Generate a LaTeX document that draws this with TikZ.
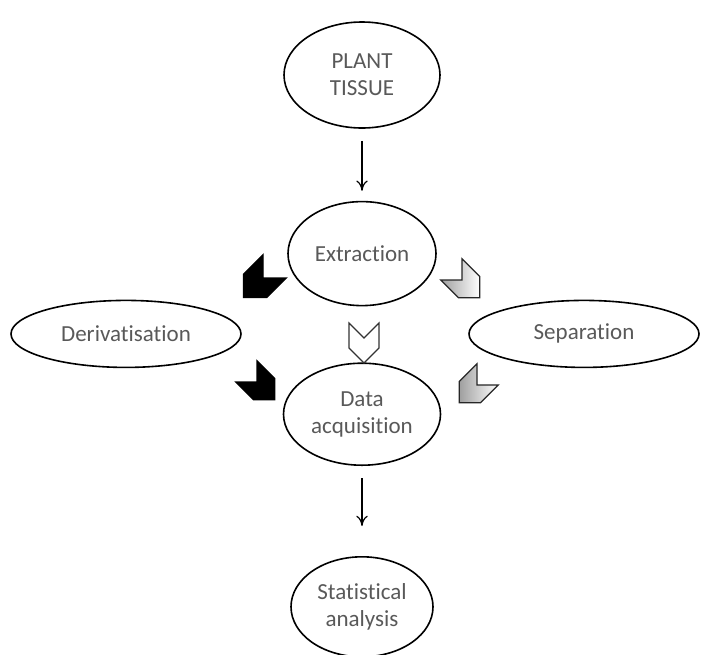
\documentclass[tikz,border=0pt]{standalone}
\usepackage{fontspec}
\setmainfont{Carlito}[Ligatures=NoCommon]
\usetikzlibrary{arrows.meta,positioning,shapes.geometric,calc}
\definecolor{txtgray}{HTML}{595959}
\tikzset{
 stage/.style={draw,ellipse,line width=0.8pt,inner sep=0pt,align=center,
               text=txtgray,font=\fontsize{11.5}{13.5}\selectfont},
 arrow/.style={-{To[length=1.8mm,width=2mm]},line width=0.6pt,shorten <=6pt,shorten >=5pt},
 chev/.pic={\path[#1] (-7.5pt,7.5pt) -- (0,0) -- (-7.5pt,-7.5pt) -- (5pt,-7.5pt)
             -- (12.5pt,0) -- (5pt,7.5pt) -- cycle;},
 darkchev/.style={draw=black,fill=black,line width=0.6pt},
 greychev/.style={draw=black!85,line width=0.6pt,left color=gray!75,right color=white},
 openchev/.style={draw=black!80,line width=0.6pt,fill=white}
}

\begin{document}
\begin{tikzpicture}[node distance=36pt]
\useasboundingbox (0,0) rectangle (355pt,-327pt);
\node[stage,minimum width=78pt,minimum height=53pt] (plant) at (181pt,-37.5pt) {PLANT\\TISSUE};
\node[stage,minimum width=74pt,minimum height=52pt,below=36pt of plant] (extract) {Extraction};
\node[stage,minimum width=78.5pt,minimum height=51pt,below=28pt of extract] (acq) {Data\\acquisition};
\node[stage,minimum width=71pt,minimum height=50pt,below=45pt of acq] (stats) {Statistical\\analysis};
\coordinate (mid) at ($(extract)!0.5!(acq)$);
\node[stage,minimum width=115pt,minimum height=33.5pt] (deriv) at ([xshift=-118pt]mid) {Derivatisation};
\node[stage,minimum width=115pt,minimum height=33.5pt] (separ) at ([xshift=111pt]mid) {Separation};
\draw[arrow] (plant) -- (extract);
\draw[arrow,shorten >=15pt] (acq) -- (stats);
% chevrons between the stages
\pic[rotate=225,scale=1.1] at (131.5pt,-139pt) {chev=darkchev};
\pic[rotate=-45] at (231pt,-140pt) {chev=greychev};
\pic[rotate=-90] at (182pt,-169pt) {chev=openchev};
\pic[rotate=-45] at (128.5pt,-191pt) {chev=darkchev};
\pic[rotate=225] at (238.5pt,-192.5pt) {chev=greychev};
\end{tikzpicture}
\end{document}
